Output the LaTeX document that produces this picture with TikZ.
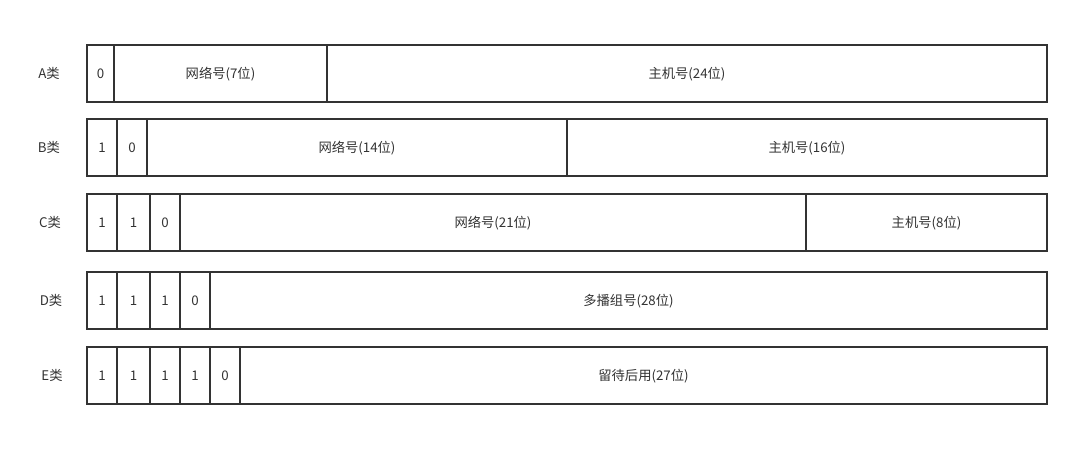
\documentclass[tikz,border=0pt]{standalone}
\usepackage{fontspec}
\setmainfont{Noto Sans CJK SC}
\usepackage{tikz}
\usetikzlibrary{positioning}
\definecolor{ink}{HTML}{333333}
\tikzset{
  field/.style={draw=ink,line width=1.5pt,inner sep=0pt,outer sep=0pt,
    minimum height=57pt,text=ink,text height=12pt,text depth=2pt,
    font=\fontsize{13.3}{16}\selectfont},
  cls/.style={text=ink,text height=12pt,text depth=2pt,
    font=\fontsize{13.3}{16}\selectfont},
}
\begin{document}
\begin{tikzpicture}[x=1pt,y=-1pt]
          \useasboundingbox (0,0) rectangle (1090,458);
          % A
          \node[cls] (la) at (49,73.5) {A类};
          \node[field,minimum width=27pt,anchor=north west] (a0) at (87,45) {0};
          \node[field,minimum width=213pt,right=0pt of a0] (a1) {网络号(7位)};
          \node[field,minimum width=720pt,right=0pt of a1] (a2) {主机号(24位)};
          % B
          \node[cls] (lb) at (49,147.5) {B类};
          \node[field,minimum width=30pt,anchor=north west] (b0) at (87,119) {1};
          \node[field,minimum width=30pt,right=0pt of b0] (b1) {0};
          \node[field,minimum width=420pt,right=0pt of b1] (b2) {网络号(14位)};
          \node[field,minimum width=480pt,right=0pt of b2] (b3) {主机号(16位)};
          % C
          \node[cls] (lc) at (50,222.5) {C类};
          \node[field,minimum width=30pt,anchor=north west] (c0) at (87,194) {1};
          \node[field,minimum width=33pt,right=0pt of c0] (c1) {1};
          \node[field,minimum width=30pt,right=0pt of c1] (c2) {0};
          \node[field,minimum width=626pt,right=0pt of c2] (c3) {网络号(21位)};
          \node[field,minimum width=241pt,right=0pt of c3] (c4) {主机号(8位)};
          % D
          \node[cls] (ld) at (51,300.5) {D类};
          \node[field,minimum width=30pt,anchor=north west] (d0) at (87,272) {1};
          \node[field,minimum width=33pt,right=0pt of d0] (d1) {1};
          \node[field,minimum width=30pt,right=0pt of d1] (d2) {1};
          \node[field,minimum width=30pt,right=0pt of d2] (d3) {0};
          \node[field,minimum width=837pt,right=0pt of d3] (d4) {多播组号(28位)};
          % E
          \node[cls] (le) at (52,375.5) {E类};
          \node[field,minimum width=30pt,anchor=north west] (e0) at (87,347) {1};
          \node[field,minimum width=33pt,right=0pt of e0] (e1) {1};
          \node[field,minimum width=30pt,right=0pt of e1] (e2) {1};
          \node[field,minimum width=30pt,right=0pt of e2] (e3) {1};
          \node[field,minimum width=30pt,right=0pt of e3] (e4) {0};
          \node[field,minimum width=807pt,right=0pt of e4] (e5) {留待后用(27位)};
        \end{tikzpicture}
\end{document}
